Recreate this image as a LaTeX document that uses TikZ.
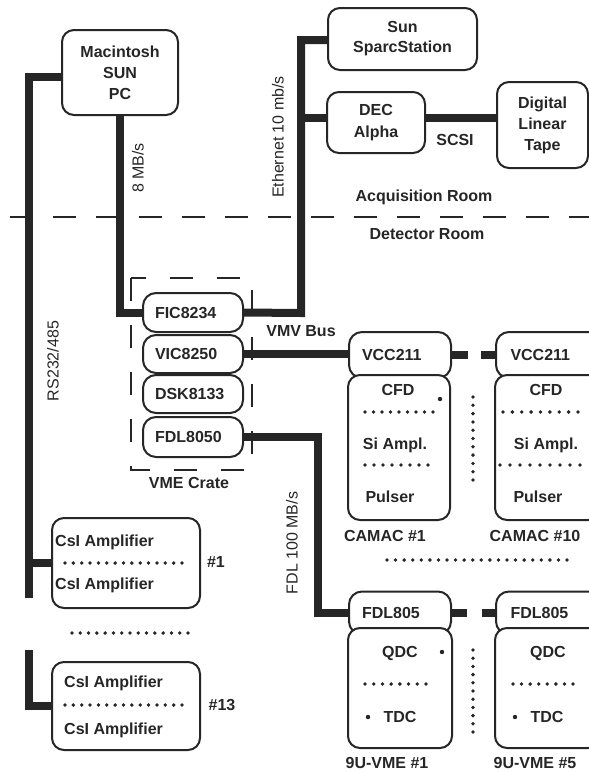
\documentclass[tikz,border=0pt]{standalone}
\usepackage{fontspec}
\setmainfont{Liberation Sans}
\definecolor{ink}{RGB}{38,38,38}
\newcommand\dotrowx[4]{\foreach \i in {0,...,#4}{\fill[ink] ({#1+\i*(#2-#1)/#4},#3) circle (1.9pt);}}
\newcommand\dotcolx[4]{\foreach \i in {0,...,#4}{\fill[ink] (#1,{#2+\i*(#3-#2)/#4}) circle (1.9pt);}}
\begin{document}
\begin{tikzpicture}[x=1pt,y=-1pt,
  box/.style={draw=ink,line width=2pt,rounded corners=12pt,fill=white,font=\bfseries\fontsize{16}{21}\selectfont,text=ink,align=center,inner sep=0pt},
  modbox/.style={box,rounded corners=13pt,align=left,text width=#1,inner xsep=12pt},
  bus/.style={draw=ink,line width=8pt,line join=miter},
  lbl/.style={font=\bfseries\fontsize{16}{19}\selectfont,text=ink,inner sep=0pt},
  rlbl/.style={font=\fontsize{16}{19}\selectfont,text=ink,inner sep=0pt,rotate=90},
  roomline/.style={draw=ink,line width=2pt,dash pattern=on 23pt off 20pt},
  cratebox/.style={draw=ink,line width=2pt,dash pattern=on 23pt off 24pt}]
\useasboundingbox (0,0) rectangle (589,772);
\clip (0,0) rectangle (589,772);

% acquisition room
\node[box,minimum width=116pt,minimum height=85pt] (mac) at (120,72.5) {Macintosh\\SUN\\PC};
\node[box,minimum width=149pt,minimum height=62pt,font=\bfseries\fontsize{16}{20}\selectfont] (sun) at (402.5,39) {Sun\\SparcStation};
\node[box,minimum width=98pt,minimum height=61pt,font=\bfseries\fontsize{16}{22}\selectfont] (dec) at (376,122.5) {DEC\\Alpha};
\node[box,minimum width=91pt,minimum height=86pt] (tape) at (542.5,125) {Digital\\Linear\\Tape};

\node[lbl] (scsi) at (455,140) {SCSI};
\node[lbl] (acq) at (424,197) {Acquisition Room};
\node[lbl] (det) at (427,234) {Detector Room};
\draw[roomline] (10,217) -- (589,217);

% VME crate
\draw[cratebox] (131,278) rectangle (252,470);
\node[modbox=76pt,minimum width=100pt,minimum height=39pt] (fic) at (193,312.5) {FIC8234};
\node[modbox=76pt,minimum width=100pt,minimum height=38pt] (vic) at (193,354) {VIC8250};
\node[modbox=76pt,minimum width=100pt,minimum height=38pt] (dsk) at (193,394) {DSK8133};
\node[modbox=76pt,minimum width=100pt,minimum height=40pt] (fdl) at (193,437) {FDL8050};
\node[lbl] (vmecrate) at (189,483) {VME Crate};
\node[lbl] (vmvbus) at (301,331) {VMV Bus};

% CAMAC crates
\node[modbox=76pt,minimum width=102pt,minimum height=46pt,anchor=west] (vcc1) at (348,355) {VCC211};
\node[box,minimum width=102pt,minimum height=145pt] (camac1) at (399,447.5) {};
\node[modbox=76pt,minimum width=105pt,minimum height=46pt,anchor=west] (vcc2) at (495,355) {VCC211};
\node[box,minimum width=105pt,minimum height=145pt] (camac2) at (547.5,447.5) {};
\node[lbl] (cfd1) at (398,390) {CFD};
\node[lbl] (si1) at (395,445) {Si Ampl.};
\node[lbl] (pul1) at (390,497) {Pulser};
\node[lbl] (cfd2) at (546,390) {CFD};
\node[lbl] (si2) at (546,445) {Si Ampl.};
\node[lbl] (pul2) at (538,497) {Pulser};
\node[lbl] (cam1) at (385,536) {CAMAC \#1};
\node[lbl] (cam10) at (535,536) {CAMAC \#10};
\fill[ink] (440,399) circle (2.2pt);
\dotrowx{365}{433}{412}{8}
\dotrowx{365}{428}{465}{7}
\dotrowx{503}{578}{412}{8}
\dotrowx{500}{580}{465}{8}
\dotcolx{473}{397}{480}{10}
\dotrowx{387}{567}{560}{21}

% 9U-VME crates
\node[modbox=76pt,minimum width=102pt,minimum height=43pt,anchor=west] (fa) at (348,613) {FDL805};
\node[box,minimum width=104pt,minimum height=120pt] (vme1) at (400,688) {};
\node[modbox=76pt,minimum width=105pt,minimum height=43pt,anchor=west] (fb) at (495,613) {FDL805};
\node[box,minimum width=105pt,minimum height=120pt] (vme5) at (547.5,688) {};
\node[lbl] (qdc1) at (400,653) {QDC};
\node[lbl] (tdc1) at (400,717) {TDC};
\node[lbl] (qdc2) at (548,653) {QDC};
\node[lbl] (tdc2) at (547,717) {TDC};
\node[lbl] (u1) at (387,763) {9U-VME \#1};
\node[lbl] (u5) at (535,763) {9U-VME \#5};
\fill[ink] (442,652) circle (2.2pt);
\fill[ink] (368,717) circle (2.2pt);
\fill[ink] (515,717) circle (2.2pt);
\dotrowx{365}{426}{684}{7}
\dotrowx{513}{573}{684}{7}
\dotcolx{473}{650}{732}{10}

% CsI amplifiers
\node[box,minimum width=148pt,minimum height=90pt] (csi1) at (126,563) {};
\node[lbl,anchor=west] (c1a) at (55,542) {CsI Amplifier};
\node[lbl,anchor=west] (c1b) at (55,585) {CsI Amplifier};
\dotrowx{65}{182}{563}{14}
\node[lbl] (n1) at (216,562) {\#1};
\dotrowx{72}{188}{633}{14}
\node[box,minimum width=148pt,minimum height=88pt] (csi2) at (126,706) {};
\node[lbl,anchor=west] (c2a) at (64,683) {CsI Amplifier};
\node[lbl,anchor=west] (c2b) at (64,730) {CsI Amplifier};
\dotrowx{65}{182}{705}{14}
\node[lbl] (n13) at (222,705) {\#13};

% rotated labels
\node[rlbl] (mbs) at (138,168) {8 MB/s};
\node[rlbl] (eth) at (278,137) {Ethernet 10 mb/s};
\node[rlbl] (rs) at (53,361) {RS232/485};
\node[rlbl] (fdlr) at (292,543) {FDL 100 MB/s};

% connectors
\coordinate (rsTop) at (29,77);
\coordinate (rsBot) at (29,598);
\coordinate (rs2Top) at (29,650);
\coordinate (ethT) at (301,40);
\coordinate (ethB) at (301,313);
\coordinate (scsiL) at (460,118);
\coordinate (fdlA) at (318,437);
\coordinate (fdlB) at (318,613);
\coordinate (s1) at (468,355);
\coordinate (s2) at (481,355);
\coordinate (s3) at (467,613);
\coordinate (s4) at (482,613);

\draw[bus] (mac.west|-rsTop) -- (rsTop) -- (rsBot);
\draw[bus] (csi1.west) -- (csi1.west-|rsTop);
\draw[bus] (rs2Top) |- (csi2.west);
\draw[bus] (mac.south) -- (mac.south|-fic.west) -- (fic.west);
\draw[bus] (fic.east) -- (ethB) -- (ethT) -- (sun.west|-ethT);
\draw[bus] (dec.west|-scsiL) -- (scsiL-|ethT);
\draw[bus] (dec.east|-scsiL) -- (tape.west|-scsiL);
\draw[bus] (vic.east) -- (vic.east-|vcc1.west);
\draw[bus] (vcc1.east) -- (s1);
\draw[bus] (vcc2.west) -- (s2);
\draw[bus] (fdl.east) -- (fdlA) -- (fdlB) -- (fa.west);
\draw[bus] (fa.east) -- (s3);
\draw[bus] (fb.west) -- (s4);
\end{tikzpicture}
\end{document}
